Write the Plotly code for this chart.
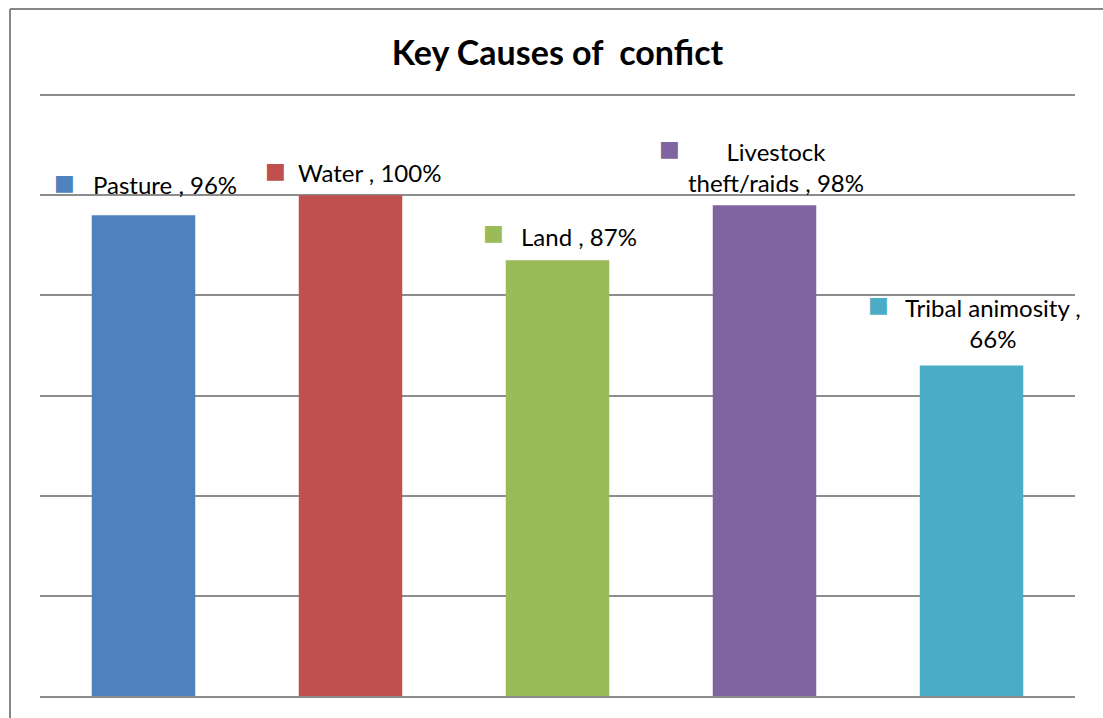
import plotly.graph_objects as go

categories = ["Pasture", "Water", "Land", "Livestock theft/raids", "Tribal animosity"]
values = [96, 100, 87, 98, 66]
label_texts = ["Pasture , 96%", "Water , 100%", "Land , 87%",
               "Livestock<br>theft/raids , 98%", "Tribal animosity ,<br>66%"]
colors = ["#4F81BD", "#C0504D", "#9BBB59", "#8064A2", "#4BACC6"]

# label offsets (pixels) relative to bar top centre: text (dx, dy), square (dx, dy)
text_offsets = [(21, 31), (18.5, 23), (21, 24), (11, 38.5), (21.5, 42.5)]
square_offsets = [(-79, 33), (-75, 25), (-64, 28), (-95.5, 57), (-93, 61)]

FONT = "Lato, Open Sans, sans-serif"

fig = go.Figure(go.Bar(
    x=categories, y=values, marker=dict(color=colors, line=dict(width=0)),
    width=0.5, hoverinfo="skip"))

for c, v, t, col, (tx, ty), (sx, sy) in zip(categories, values, label_texts, colors,
                                            text_offsets, square_offsets):
    fig.add_annotation(x=c, y=v, xref="x", yref="y", text=t, showarrow=False,
                       xshift=tx, yshift=ty, align="center",
                       font=dict(family=FONT, size=24, color="#000000"))
    fig.add_annotation(x=c, y=v, xref="x", yref="y", text="■", showarrow=False,
                       xshift=sx, yshift=sy,
                       font=dict(family="DejaVu Sans", size=22, color=col))

# top gridline (at the top of the value range)
fig.add_shape(type="line", xref="paper", yref="paper", x0=0, x1=1, y0=1, y1=1,
              line=dict(color="#8C8C8C", width=2))

# outer chart border (left and top edges visible)
fig.add_shape(type="line", xref="paper", yref="paper",
              x0=(10 - 40) / 1035, x1=(1120 - 40) / 1035,
              y0=(696 - 9) / 601, y1=(696 - 9) / 601,
              line=dict(color="#868686", width=2))
fig.add_shape(type="line", xref="paper", yref="paper",
              x0=(10 - 40) / 1035, x1=(10 - 40) / 1035,
              y0=(696 - 9) / 601, y1=-0.1,
              line=dict(color="#868686", width=2))

fig.update_layout(
    width=1103, height=718,
    margin=dict(l=40, r=28, t=95, b=22),
    paper_bgcolor="white", plot_bgcolor="white",
    showlegend=False, bargap=0.5,
    title=dict(text="<b>Key Causes of  confict</b>", x=(557.5) / 1103, xanchor="center",
               y=1 - 53 / 718, yanchor="middle",
               font=dict(family=FONT, size=34, color="#000000")),
    xaxis=dict(range=[-0.5, len(categories) - 0.5], autorange=False,
               showticklabels=False, showgrid=False, zeroline=False,
               showline=True, linecolor="#8C8C8C", linewidth=2, ticks=""),
    yaxis=dict(range=[0, 120], autorange=False, dtick=20, showticklabels=False,
               showgrid=True, gridcolor="#8C8C8C", gridwidth=2, zeroline=False,
               showline=False, ticks=""),
)

fig.write_html("out.html")
